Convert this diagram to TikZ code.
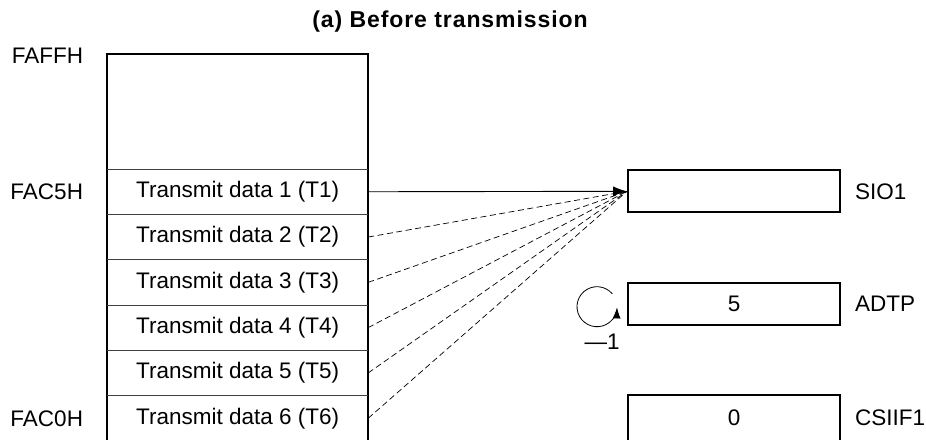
\documentclass[tikz,border=0pt]{standalone}
\usepackage{fontspec}
\setmainfont{Liberation Sans}
\usetikzlibrary{positioning, arrows.meta}

\begin{document}
\begin{tikzpicture}[
    x=1pt, y=-1pt,
    node distance=0pt and 14pt,
    txt/.style={font=\fontsize{22.5}{27}\selectfont, inner sep=0pt},
    cell/.style={txt, minimum width=261pt, minimum height=45.3pt, outer sep=0pt},
    reg/.style={txt, draw, line width=2pt, minimum width=212pt, minimum height=42pt},
    outline/.style={line width=2pt},
    sep/.style={line width=1pt, black!75},
    arr/.style={line width=0.9pt, -{Latex[length=14pt, width=10pt]}},
    fanline/.style={line width=0.7pt, dash pattern=on 6pt off 3.5pt},
    looparr/.style={line width=0.8pt, -{Latex[length=11pt, width=8pt]}}
  ]
  \useasboundingbox (0,0) rectangle (926,439);
  \clip (0,0) rectangle (926,439);

  \node[txt, font={\fontsize{23}{27}\selectfont\bfseries\addfontfeature{LetterSpace=4}}] (title) at (450,22) {(a) Before transmission};

  % memory area
  \node[cell, minimum height=115pt] (top) at (237.7,111.6) {};
  \node[cell, below=of top] (t1) {Transmit data 1 (T1)};
  \node[cell, below=of t1] (t2) {Transmit data 2 (T2)};
  \node[cell, below=of t2] (t3) {Transmit data 3 (T3)};
  \node[cell, below=of t3] (t4) {Transmit data 4 (T4)};
  \node[cell, below=of t4] (t5) {Transmit data 5 (T5)};
  \node[cell, below=of t5] (t6) {Transmit data 6 (T6)};

  \draw[outline] (t6.south west) -- (top.north west) -- (top.north east) -- (t6.south east);
  \draw[sep] (t1.north west) -- (t1.north east);
  \draw[sep] (t2.north west) -- (t2.north east);
  \draw[sep] (t3.north west) -- (t3.north east);
  \draw[sep] (t4.north west) -- (t4.north east);
  \draw[sep] (t5.north west) -- (t5.north east);
  \draw[sep] (t6.north west) -- (t6.north east);

  \node[txt, left=24pt of top.north west, yshift=-2pt] (faffh) {FAFFH};
  \node[txt, left=24pt of t1] (fac5h) {FAC5H};
  \node[txt, left=24pt of t6] (fac0h) {FAC0H};

  % registers
  \node[reg] (sio) at (734,191.3) {};
  \node[reg] (adtp) at (734,303.7) {5};
  \node[reg, minimum height=46pt] (csiif) at (734,418) {0};

  \node[txt, right=of sio] (siolbl) {SIO1};
  \node[txt, right=of adtp] (adtplbl) {ADTP};
  \node[txt, right=of csiif] (csiiflbl) {CSIIF1};

  \draw[arr] (t1.east) -- (sio.west);
  \draw[fanline] (t2.east) -- (sio.west);
  \draw[fanline] (t3.east) -- (sio.west);
  \draw[fanline] (t4.east) -- (sio.west);
  \draw[fanline] (t5.east) -- (sio.west);
  \draw[fanline] (t6.east) -- (sio.west);

  % decrement loop
  \coordinate (loopc) at (597,306.7);
  \draw[looparr] ([shift={(40:20pt)}]loopc) arc[start angle=40, end angle=358, radius=20pt];
  \node[txt, anchor=north] (dec) at ([xshift=5pt, yshift=-27pt]loopc) {---1};
\end{tikzpicture}
\end{document}
